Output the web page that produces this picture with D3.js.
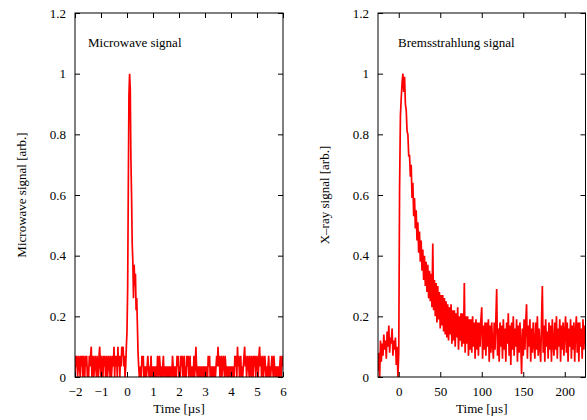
<!DOCTYPE html>
<html>
<head>
<meta charset="utf-8">
<script src="https://cdn.jsdelivr.net/npm/d3@7"></script>
<style>
  html, body { margin: 0; padding: 0; background: #fff; }
  svg { display: block; }
  text { font-family: "Liberation Serif", "Times New Roman", serif; font-size: 13px; fill: #000; }
</style>
</head>
<body>
<svg id="chart" width="587" height="420"></svg>
<script>
// ---- Data ----
// Microwave signal: sampled from -2 µs every 0.025 µs
const mwStart = -2;
const mwStep = 0.025;
const mwSignal = [
  0,.07,.035,.07,0,.035,.07,.035,0,.07,.035,.07,0,.07,.035,0,.07,.035,.07,0,
  .035,0,.07,.035,.07,.1,0,.035,.07,0,.035,.07,.035,0,.07,.035,0,.07,.1,.035,
  0,.07,.035,0,.07,.035,.07,0,.035,.07,0,.035,.07,.035,0,.07,0,.035,.07,.035,
  .1,0,.07,.035,.07,0,.1,.035,.07,0,.07,.035,.1,.07,.1,.035,.07,0,.035,.1,
  .15,.29,.62,.93,1.0,.95,.72,.60,.44,.38,.26,.37,.30,.34,.22,.26,.17,.08,.035,0,
  0,.035,0,.07,.035,.07,0,.035,0,.035,0,.035,.07,.035,0,.035,0,.07,0,.035,
  0,.035,0,.035,0,.035,0,.07,.035,0,.07,.035,0,.035,0,.035,.07,0,.035,0,
  .035,0,.035,0,.035,0,.035,0,.035,0,.07,.035,0,.035,0,.035,0,.07,.035,.07,
  0,.035,0,.07,.035,.07,0,.035,.07,0,.035,0,.07,.035,.07,0,.035,.07,0,.035,
  0,.035,0,.07,0,.035,.1,.035,0,.035,0,.035,0,.035,0,.035,0,.035,0,.035,
  0,.035,0,.035,0,.07,.035,.07,0,.035,0,.035,0,.035,0,.035,0,.035,.07,.035,
  .1,.035,.07,0,.035,.07,0,.035,.07,.035,0,.07,.035,0,.035,0,.035,0,.035,0,
  .035,0,.035,0,.035,0,.07,.035,.07,0,.1,.035,.07,0,.035,.07,0,.035,0,.035,
  .07,.1,.035,.07,0,.035,.07,.035,0,.07,.035,0,.07,.035,0,.07,.035,.07,0,.035,
  .07,.035,0,.07,.1,.035,.07,0,.035,.07,0,.035,.07,.035,0,.035,0,.035,.07,0,
  .035,0,.035,.07,.035,0,.07,.035,0,.035,0,.035,0,.035,0,.035,.07,0,.035,.07,
  .035
];

// X-ray (bremsstrahlung) signal: sampled from -25 µs every 1 µs
const xrStart = -25;
const xrStep = 1;
const xrSignal = [
  0.02,0.08,0.00,0.12,0.05,0.11,0.07,0.14,0.09,0.12,
  0.06,0.15,0.10,0.17,0.08,0.13,0.11,0.16,0.07,0.12,
  0.09,0.13,0.04,0.10,0.00,0.08,0.62,0.86,0.92,0.97,
  1.00,0.94,0.99,0.90,0.88,0.81,0.80,0.73,0.73,0.66,
  0.70,0.59,0.64,0.53,0.59,0.49,0.55,0.45,0.51,0.41,
  0.48,0.38,0.45,0.35,0.42,0.32,0.40,0.30,0.38,0.28,
  0.37,0.26,0.35,0.25,0.34,0.23,0.44,0.22,0.32,0.20,
  0.31,0.18,0.30,0.19,0.28,0.16,0.27,0.17,0.27,0.15,
  0.26,0.14,0.25,0.13,0.24,0.12,0.23,0.14,0.24,0.11,
  0.22,0.12,0.22,0.10,0.21,0.13,0.23,0.09,0.20,0.12,
  0.21,0.10,0.21,0.11,0.31,0.08,0.20,0.11,0.20,0.07,
  0.19,0.09,0.19,0.08,0.20,0.10,0.18,0.06,0.19,0.09,
  0.18,0.07,0.18,0.10,0.19,0.23,0.06,0.17,0.09,0.18,
  0.07,0.18,0.10,0.19,0.05,0.17,0.08,0.18,0.11,0.06,
  0.18,0.09,0.19,0.29,0.07,0.16,0.05,0.18,0.10,0.17,
  0.06,0.19,0.09,0.16,0.05,0.18,0.11,0.21,0.07,0.17,
  0.04,0.18,0.09,0.20,0.07,0.16,0.10,0.19,0.05,0.17,
  0.08,0.18,0.11,0.01,0.16,0.07,0.19,0.09,0.18,0.24,
  0.06,0.17,0.10,0.19,0.05,0.16,0.08,0.18,0.11,0.06,
  0.18,0.09,0.20,0.07,0.16,0.10,0.05,0.18,0.30,0.08,
  0.17,0.05,0.19,0.10,0.15,0.06,0.18,0.09,0.17,0.05,
  0.19,0.11,0.07,0.18,0.09,0.20,0.06,0.16,0.10,0.19,
  0.05,0.17,0.09,0.18,0.07,0.15,0.20,0.08,0.18,0.05,
  0.16,0.10,0.19,0.06,0.17,0.09,0.18,0.05,0.15,0.20,
  0.08,0.18,0.05,0.18,0.10,0.16,0.06,0.19,0.09,0.17,0.11
];

const yTicks = [0, 0.2, 0.4, 0.6, 0.8, 1, 1.2];
const mwXTicks = [-2, -1, 0, 1, 2, 3, 4, 5, 6];
const xrXTicks = [0, 50, 100, 150, 200];

const panels = [
  {
    id: "mw", left: 75, right: 283, xDomain: [-2, 6], xTicks: mwXTicks,
    start: mwStart, step: mwStep, values: mwSignal,
    yTitle: "Microwave signal [arb.]", yTitleX: 21,
    note: "Microwave signal", noteX: 88
  },
  {
    id: "xr", left: 378, right: 585.5, xDomain: [-25, 225], xTicks: xrXTicks,
    start: xrStart, step: xrStep, values: xrSignal,
    yTitle: "X\u2013ray signal [arb.]", yTitleX: 324,
    note: "Bremsstrahlung signal", noteX: 398
  }
];

const plotTop = 13, plotBottom = 377;
const svg = d3.select("#chart");
const fmtX = d => d < 0 ? "\u2212" + Math.abs(d) : String(d);

panels.forEach(p => {
  const x = d3.scaleLinear().domain(p.xDomain).range([p.left, p.right]);
  const y = d3.scaleLinear().domain([0, 1.2]).range([plotBottom, plotTop]);
  const g = svg.append("g");

  g.append("clipPath").attr("id", "clip-" + p.id)
    .append("rect").attr("x", p.left).attr("y", plotTop)
    .attr("width", p.right - p.left).attr("height", plotBottom - plotTop);

  const pts = p.values.map((v, i) => [p.start + i * p.step, v]);
  const line = d3.line().x(d => x(d[0])).y(d => y(d[1]));
  g.append("path")
    .attr("clip-path", "url(#clip-" + p.id + ")")
    .attr("d", line(pts))
    .attr("fill", "none")
    .attr("stroke", "#ff0000")
    .attr("stroke-width", 1.7)
    .attr("stroke-linejoin", "miter");

  // axes (inward ticks, mirrored)
  const tl = 5;
  const axB = d3.axisBottom(x).tickValues(p.xTicks).tickSizeInner(-tl).tickSizeOuter(0).tickPadding(10).tickFormat(fmtX);
  const axT = d3.axisTop(x).tickValues(p.xTicks).tickSizeInner(-tl).tickSizeOuter(0).tickFormat("");
  const axL = d3.axisLeft(y).tickValues(yTicks).tickSizeInner(-tl).tickSizeOuter(0).tickPadding(9).tickFormat(d => String(d));
  const axR = d3.axisRight(y).tickValues(yTicks).tickSizeInner(-tl).tickSizeOuter(0).tickFormat("");

  const gb = g.append("g").attr("transform", `translate(0,${plotBottom})`).call(axB);
  const gt = g.append("g").attr("transform", `translate(0,${plotTop})`).call(axT);
  const gl = g.append("g").attr("transform", `translate(${p.left},0)`).call(axL);
  const gr = g.append("g").attr("transform", `translate(${p.right},0)`).call(axR);
  [gb, gt, gl, gr].forEach(a => {
    a.attr("font-family", null).attr("font-size", null);
    a.select(".domain").remove();
    a.selectAll("line").attr("stroke", "#000").attr("stroke-width", 1);
    a.selectAll("text").style("fill", "#000");
  });

  // frame
  g.append("rect").attr("x", p.left).attr("y", plotTop)
    .attr("width", p.right - p.left).attr("height", plotBottom - plotTop)
    .attr("fill", "none").attr("stroke", "#000").attr("stroke-width", 1);

  // titles
  g.append("text").attr("x", (p.left + p.right) / 2).attr("y", 413)
    .attr("text-anchor", "middle").text("Time [\u00b5s]");
  g.append("text")
    .attr("transform", `translate(${p.yTitleX},${(plotTop + plotBottom) / 2}) rotate(-90)`)
    .attr("text-anchor", "middle").attr("dy", "0.35em").text(p.yTitle);
  g.append("text").attr("x", p.noteX).attr("y", 47).text(p.note);
});
</script>
</body>
</html>
